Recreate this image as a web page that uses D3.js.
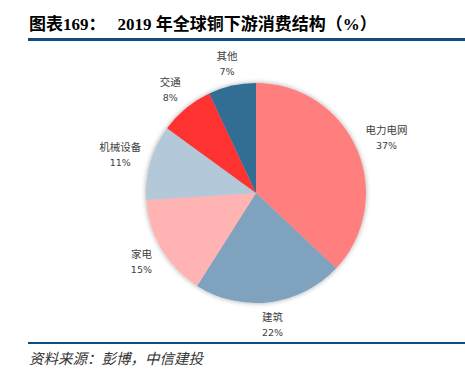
<!DOCTYPE html>
<html>
<head>
<meta charset="utf-8">
<script src="https://cdn.jsdelivr.net/npm/d3@7"></script>
<style>
  body { margin: 0; background: #fff; }
  svg text { font-family: "Liberation Serif", "Noto Sans CJK SC", serif; }
</style>
</head>
<body>
<div id="chart"></div>
<script>
var categories = ["电力电网", "建筑", "家电", "机械设备", "交通", "其他"];
var values = [37, 22, 15, 11, 8, 7];
var colors = ["#FF7F7F", "#7FA3BF", "#FFB3B3", "#B3C8D8", "#FF3333", "#336E94"];

var width = 465, height = 385;
var cx = 256, cy = 193, radius = 110;

var svg = d3.select("#chart").append("svg")
    .attr("width", width).attr("height", height);

var defs = svg.append("defs");
var f = defs.append("filter").attr("id", "shadow")
    .attr("x", "-20%").attr("y", "-20%").attr("width", "140%").attr("height", "140%");
f.append("feDropShadow").attr("dx", 0).attr("dy", 0).attr("stdDeviation", 2.5)
    .attr("flood-color", "#000").attr("flood-opacity", 0.35);

// title
var title = svg.append("text").attr("x", 29).attr("y", 30)
    .attr("font-size", 17).attr("font-weight", "bold").attr("fill", "#000");
title.append("tspan").text("图表169：");
title.append("tspan").attr("dx", 12).text("2019 年全球铜下游消费结构（%）");

svg.append("rect").attr("x", 28).attr("y", 38).attr("width", width - 28).attr("height", 3)
    .attr("fill", "#0F4C81");
svg.append("rect").attr("x", 28).attr("y", 342).attr("width", width - 28).attr("height", 2)
    .attr("fill", "#0F4C81");

svg.append("text").attr("x", 29).attr("y", 364)
    .attr("font-size", 14.5).attr("font-style", "italic").attr("fill", "#333")
    .style("font-family", "'Noto Sans CJK SC', sans-serif")
    .text("资料来源：彭博，中信建投");

// pie
var pie = d3.pie().sort(null).value(function(d) { return d; });
var arcs = pie(values);
var arc = d3.arc().innerRadius(0).outerRadius(radius);

var g = svg.append("g").attr("transform", "translate(" + cx + "," + cy + ")");

g.append("g").attr("filter", "url(#shadow)")
  .selectAll("path").data(arcs).enter().append("path")
    .attr("d", arc)
    .attr("fill", function(d, i) { return colors[i]; });

// place label box just outside the pie (box extent along radial direction)
function labelPos(d, i) {
  var a = (d.startAngle + d.endAngle) / 2;
  var hw = categories[i].length * 5.5, hh = 15;
  var r = 116 + Math.abs(Math.sin(a)) * hw + Math.abs(Math.cos(a)) * hh;
  return [Math.sin(a) * r, -Math.cos(a) * r];
}

var lab = g.selectAll(".lab").data(arcs).enter().append("text")
    .attr("class", "lab")
    .attr("text-anchor", "middle")
    .attr("font-size", 10.5)
    .attr("fill", "#404040")
    .attr("transform", function(d, i) {
      var c = labelPos(d, i);
      return "translate(" + c[0] + "," + c[1] + ")";
    });
lab.append("tspan").attr("x", 0).attr("y", -3)
    .style("font-family", "'Noto Sans CJK SC', sans-serif")
    .text(function(d, i) { return categories[i]; });
lab.append("tspan").attr("x", 0).attr("y", 12)
    .style("font-family", "'DejaVu Sans', sans-serif").attr("font-size", 9.5)
    .text(function(d) { return d.data + "%"; });
</script>
</body>
</html>
